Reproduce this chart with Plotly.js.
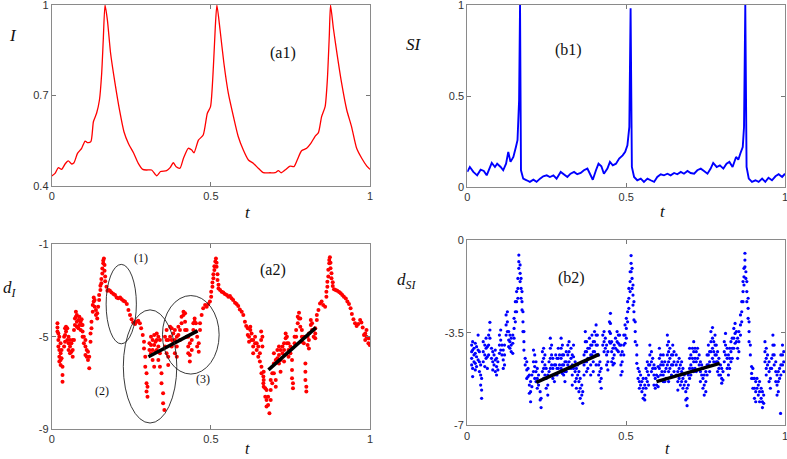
<!DOCTYPE html>
<html><head><meta charset="utf-8">
<script src="https://cdn.plot.ly/plotly-3.0.1.min.js"></script>
<style>html,body{margin:0;padding:0;background:#fff}#chart{width:787px;height:459px}</style>
</head><body><div id="chart"></div>
<script>
// ---------- (a1) I(t) ----------
const tI = [0,0.0105,0.021,0.031,0.042,0.052,0.063,0.070,0.081,0.094,0.105,0.112,0.123,0.131,0.141,0.150,0.157,0.162,0.1675,0.175,0.185,0.199,0.213,0.227,0.241,0.257,0.272,0.286,0.298,0.314,0.330,0.342,0.361,0.372,0.382,0.391,0.403,0.414,0.429,0.440,0.447,0.461,0.476,0.489,0.499,0.508,0.514,0.519,0.529,0.541,0.555,0.571,0.586,0.602,0.618,0.634,0.649,0.665,0.686,0.702,0.712,0.721,0.733,0.749,0.761,0.772,0.785,0.801,0.814,0.827,0.838,0.848,0.859,0.866,0.872,0.876,0.885,0.897,0.911,0.927,0.942,0.958,0.974,0.990,1.0];
const iVals = [0.433,0.442,0.461,0.455,0.473,0.483,0.473,0.477,0.508,0.525,0.549,0.544,0.547,0.613,0.641,0.685,0.773,0.884,1.0,0.950,0.840,0.740,0.652,0.580,0.541,0.510,0.475,0.455,0.453,0.453,0.434,0.448,0.451,0.461,0.477,0.464,0.459,0.492,0.525,0.519,0.510,0.552,0.569,0.641,0.663,0.796,0.928,1.0,0.917,0.807,0.707,0.630,0.564,0.519,0.486,0.475,0.459,0.444,0.444,0.444,0.451,0.444,0.453,0.466,0.464,0.488,0.517,0.525,0.541,0.564,0.577,0.630,0.663,0.752,0.895,1.0,0.922,0.834,0.740,0.652,0.597,0.525,0.492,0.466,0.455];

// ---------- (b1) SI(t) ----------
const tSI = [0,0.008,0.019,0.031,0.042,0.052,0.061,0.071,0.077,0.087,0.094,0.105,0.113,0.122,0.129,0.136,0.145,0.153,0.158,0.163,0.166,0.169,0.176,0.187,0.197,0.208,0.218,0.229,0.239,0.250,0.260,0.271,0.281,0.294,0.304,0.315,0.325,0.336,0.346,0.357,0.367,0.378,0.386,0.395,0.405,0.413,0.422,0.430,0.441,0.449,0.458,0.468,0.478,0.489,0.497,0.504,0.510,0.514,0.518,0.525,0.535,0.546,0.556,0.567,0.577,0.588,0.598,0.609,0.619,0.630,0.640,0.651,0.661,0.672,0.682,0.693,0.703,0.714,0.724,0.735,0.745,0.756,0.766,0.774,0.785,0.795,0.806,0.816,0.825,0.835,0.846,0.853,0.860,0.867,0.871,0.875,0.879,0.886,0.896,0.907,0.917,0.928,0.938,0.948,0.959,0.970,0.980,0.991,1.0];
const siVals = [0.083,0.110,0.083,0.064,0.095,0.088,0.064,0.101,0.132,0.110,0.128,0.110,0.092,0.128,0.193,0.138,0.165,0.220,0.257,0.477,1.0,0.092,0.046,0.037,0.028,0.040,0.028,0.046,0.059,0.064,0.055,0.064,0.046,0.083,0.070,0.055,0.073,0.083,0.070,0.077,0.092,0.101,0.073,0.040,0.092,0.128,0.114,0.073,0.101,0.138,0.119,0.128,0.156,0.174,0.193,0.229,0.330,0.982,0.110,0.055,0.037,0.046,0.028,0.046,0.037,0.028,0.055,0.070,0.064,0.073,0.064,0.077,0.070,0.083,0.073,0.088,0.077,0.073,0.092,0.101,0.088,0.073,0.101,0.132,0.110,0.119,0.101,0.128,0.138,0.110,0.165,0.150,0.187,0.220,0.330,1.0,0.110,0.046,0.028,0.037,0.028,0.046,0.028,0.051,0.037,0.059,0.070,0.055,0.073];

// ---------- (a2) d_I : each row = [t, d values observed at that t] ----------
const dIRows = [
[0.018,-4.42,-4.60,-4.78],[0.021,-4.86,-5.15,-5.43],[0.024,-5.00,-5.58,-5.87,-6.08],[0.028,-5.29,-5.72,-6.01,-6.23],
[0.031,-5.58,-5.94],[0.034,-6.30,-6.66,-6.95],[0.039,-5.00,-5.43],[0.042,-4.64,-4.93,-5.22],[0.045,-4.57,-4.78],
[0.049,-4.64,-5.15],[0.053,-5.00,-5.29,-5.58],[0.0575,-5.15,-5.43,-5.72],[0.062,-5.29,-5.65],[0.066,-5.15,-5.58,-5.87],
[0.070,-4.71,-5.15],[0.073,-4.21,-4.50],[0.076,-3.92,-4.14],[0.079,-4.06,-4.35,-4.57],[0.084,-4.28,-4.64],
[0.087,-4.14,-4.50],[0.091,-4.35,-4.71],[0.094,-4.25,-4.50],[0.097,-4.50,-4.78,-5.00],[0.101,-5.00,-5.29],
[0.106,-5.15,-5.43,-5.79],[0.110,-5.58,-5.87],[0.114,-5.65,-6.01],[0.118,-5.87,-6.37],[0.122,-4.86,-5.22],
[0.125,-4.35,-4.64],[0.129,-3.63,-3.92],[0.132,-3.30,-3.48],[0.135,-3.41,-3.70],[0.139,-3.85,-4.06],[0.143,-4.21,-3.99],
[0.146,-3.70],[0.149,-3.41,-3.2],[0.153,-2.98,-2.8],[0.156,-2.69,-2.5],[0.159,-2.26,-2.05],[0.162,-1.82,-1.7],[0.164,-1.61],
[0.166,-1.90,-2.15],[0.168,-2.40,-2.6],[0.172,-2.84],[0.175,-3.01],[0.179,-2.98],[0.183,-3.01],[0.188,-3.09],
[0.194,-3.15],[0.199,-3.20],[0.204,-3.30],[0.209,-3.34],[0.215,-3.30],[0.220,-3.38],[0.225,-3.44],[0.230,-3.48],
[0.236,-3.59],[0.241,-3.85],[0.246,-4.06],[0.251,-4.25],[0.256,-4.39],[0.262,-4.45],[0.267,-4.35],[0.272,-4.31],
[0.277,-4.42],[0.281,-4.64],[0.286,-4.93],[0.290,-5.22,-5.51],[0.294,-5.87,-6.30],[0.298,-6.59,-7.02,-7.38],
[0.301,-7.17,-7.60],[0.307,-5.29,-5.58],[0.312,-5.00,-5.36,-5.72],[0.317,-5.15,-5.58,-6.01],[0.322,-4.93,-5.36,-6.30],
[0.326,-5.22,-5.65],
[0.330,-4.86,-5.15,-5.58],[0.335,-5.00,-5.43,-6.01],[0.340,-5.15,-5.72,-6.30],[0.345,-6.59,-7.02],[0.350,-7.45,-7.89],
[0.354,-8.18],[0.356,-5.00,-5.43],[0.361,-4.71,-5.15,-5.72],[0.366,-5.15,-5.87,-6.23],[0.372,-4.57,-5.00],
[0.377,-4.64,-5.15,-5.43],[0.382,-4.86,-5.29],[0.387,-4.71,-5.15,-5.72],[0.393,-5.00,-5.43,-5.87],[0.398,-4.57,-4.93],
[0.403,-4.71,-5.15],[0.408,-4.14,-4.42],[0.414,-3.92,-4.06],[0.419,-3.99,-4.35,-4.71],[0.424,-4.71,-5.00],
[0.429,-5.00,-5.43,-5.72],[0.434,-5.29,-5.79,-6.08],[0.440,-5.15,-5.58],[0.445,-4.42,-4.71],[0.449,-4.21,-4.35],
[0.453,-4.42,-4.78],[0.457,-5.00,-5.43],[0.462,-5.29,-5.65],[0.466,-4.71,-4.42],[0.471,-4.06],[0.476,-3.77],
[0.482,-3.63],[0.487,-3.70],[0.492,-3.59],[0.497,-3.48],[0.501,-3.27,-3.05],[0.505,-2.84,-2.65],[0.508,-2.47,-2.3],
[0.511,-2.11,-1.95],[0.514,-1.75],[0.516,-1.61],[0.518,-1.97,-1.8],[0.521,-2.55,-2.3],[0.524,-2.91,-2.75],
[0.529,-2.98],[0.534,-3.05],[0.539,-3.09],[0.544,-3.15],[0.550,-3.20],[0.555,-3.27],[0.560,-3.24],[0.565,-3.34],
[0.570,-3.41],[0.576,-3.53],[0.581,-3.59],[0.586,-3.67],[0.591,-3.82],[0.597,-3.92],[0.602,-4.06],[0.607,-4.35],
[0.611,-4.54],[0.616,-4.64,-4.93],[0.620,-5.00,-5.22],[0.624,-4.71,-4.57],[0.628,-4.86,-5.15],[0.633,-5.15,-5.43,-5.72],
[0.639,-5.00,-5.29],[0.644,-5.29,-5.58],[0.649,-5.43,-5.87],[0.654,-5.72,-6.08],[0.659,-6.30,-6.59],[0.665,-6.73,-7.02],
[0.658,-4.78,-5.15],[0.662,-5.00,-5.43],[0.666,-6.52,-6.88,-7.17],[0.671,-7.24,-7.60],[0.675,-7.31,-7.74,-8.03],
[0.680,-7.60,-7.96],[0.684,-8.32],[0.688,-6.88,-7.31,-7.74],[0.693,-6.59,-7.02],[0.698,-5.72,-6.16,-6.59],
[0.704,-6.01,-6.88,-7.17],[0.709,-5.58,-5.94],[0.714,-5.43,-5.79,-6.16],[0.719,-5.58,-6.01,-6.52],[0.725,-5.43,-5.72],
[0.730,-5.29,-5.58,-6.08],[0.735,-4.86,-5.07],[0.739,-5.00,-5.29],[0.744,-5.29,-5.58,-5.87],[0.750,-5.43,-5.72],
[0.755,-6.01,-6.44,-6.80],[0.758,-7.02,-7.24],[0.763,-5.00,-5.29],[0.768,-4.71,-5.00],[0.773,-4.14,-4.42],
[0.777,-3.96,-4.21],[0.781,-4.21,-4.57],[0.786,-4.71,-5.00,-5.22],[0.792,-5.00,-5.29],[0.797,-6.16,-6.52,-6.88],
[0.800,-7.17,-7.38],[0.804,-5.00,-5.36],[0.808,-4.86,-5.15,-5.51],[0.814,-4.28,-4.50],[0.818,-4.42,-4.71],
[0.823,-4.71,-5.00],[0.828,-4.64,-4.86,-5.07],[0.833,-4.28,-4.06],[0.838,-3.85],[0.843,-3.56],[0.848,-3.48],
[0.853,-3.63],[0.859,-3.70],[0.863,-3.27,-3.05],[0.866,-2.84,-2.62],[0.869,-2.40,-2.1],[0.872,-1.82,-1.68],[0.874,-1.56],
[0.876,-2.04,-1.8],[0.879,-2.47,-2.25],[0.883,-2.81,-2.64],[0.887,-2.95],[0.892,-2.98],[0.897,-3.01],[0.903,-3.07],
[0.908,-3.12],[0.913,-3.20],[0.918,-3.27],[0.924,-3.35],[0.929,-3.48],[0.934,-3.59],[0.939,-3.77],[0.943,-4.02],
[0.948,-4.25],[0.953,-4.42],[0.958,-4.54],[0.963,-4.45],[0.969,-4.28],[0.973,-4.39],[0.977,-4.60],[0.981,-4.93],
[0.985,-4.86,-5.15],[0.989,-4.71,-5.00],[0.995,-5.07,-5.29],[0.999,-5.36]
];

// ---------- (b2) d_SI : each row = [t, d values observed at that t] ----------
const dSIRows = [
[0.0147,-3.97,-4.22,-4.47,-4.72],[0.0178,-3.84,-4.16,-4.85,-5.16],[0.022,-4.09,-4.34,-4.60],[0.026,-3.90,-4.28,-4.66,-4.91],
[0.030,-4.03,-4.41,-4.78],[0.035,-3.59,-4.16,-4.53],[0.039,-4.22,-4.60,-4.97],[0.043,-4.72,-5.10,-5.48],
[0.046,-5.23,-5.67,-5.98],[0.051,-3.84,-4.22,-4.60],[0.056,-3.97,-4.34,-4.78],[0.060,-3.71,-4.09,-4.47],
[0.064,-4.03,-4.41,-4.85],[0.068,-3.59,-3.97,-4.34],[0.072,-3.11,-3.40,-3.71],[0.077,-4.09,-4.47],
[0.081,-4.22,-4.60,-4.91],[0.085,-4.34,-4.72],[0.089,-4.16,-4.53,-4.97],[0.093,-4.47,-4.78,-5.10],[0.097,-4.60,-4.91],
[0.102,-3.59,-3.97,-4.28],[0.106,-3.40,-3.78,-4.16],[0.110,-3.97,-4.34],[0.114,-4.16,-4.53,-4.85],[0.118,-3.97,-4.34,-4.72],
[0.123,-2.83,-3.21,-3.59],[0.127,-2.71,-3.09,-3.46],[0.131,-3.46,-3.78,-4.03],[0.135,-3.59,-3.84,-4.09],
[0.139,-3.71,-3.97,-4.22],[0.144,-3.59,-3.90,-4.28],[0.148,-2.96,-3.34,-3.71],[0.152,-2.33,-2.71,-3.09],
[0.156,-1.95,-2.33,-2.71],[0.160,-1.45,-1.83,-2.20],[0.163,-0.57,-0.82,-1.07],[0.167,-0.94,-1.26,-1.57],
[0.170,-1.45,-1.83,-2.20],[0.173,-1.95,-2.33,-2.64],[0.176,-2.71,-3.09,-3.46],[0.179,-3.46,-3.84,-4.16],
[0.183,-4.47,-4.72],[0.188,-4.60,-4.91,-5.23],[0.192,-4.85,-5.16],[0.196,-5.10,-5.48,-5.79],[0.200,-5.35,-5.73,-6.11],
[0.204,-5.10,-5.54],[0.209,-4.16,-4.60,-4.97],[0.213,-4.34,-4.78,-5.23],[0.217,-4.60,-4.97,-5.35],
[0.221,-4.85,-5.23,-5.60],[0.225,-5.10,-5.48],[0.230,-5.73,-6.04],[0.233,-5.98,-6.33],[0.237,-4.22,-4.60,-4.97],
[0.241,-4.09,-4.47,-4.85,-5.23],[0.245,-4.34,-4.72,-5.10],[0.249,-4.85,-5.23,-5.60],[0.254,-5.10,-5.48,-5.86],
[0.258,-4.60,-4.97],[0.262,-3.71,-4.09,-4.47,-4.85],[0.266,-3.97,-4.34,-4.72],[0.270,-4.47,-4.85,-5.23],
[0.275,-4.72,-5.10,-5.35],[0.279,-4.34,-4.72],[0.283,-4.47,-4.85,-5.10],[0.287,-4.09,-4.47,-4.85],[0.291,-4.34,-4.72],
[0.296,-3.71,-4.09,-4.47,-4.85],[0.300,-3.97,-4.34,-4.72,-5.04],[0.304,-4.34,-4.72,-5.10],[0.308,-4.60,-4.97,-5.35],
[0.312,-4.22,-4.60,-4.97],[0.317,-3.97,-4.34,-4.72],[0.321,-3.84,-4.22,-4.60,-4.85],
[0.327,-4.09,-4.47,-4.85],[0.331,-4.34,-4.72,-5.10,-5.48],[0.335,-3.97,-4.41,-4.85],[0.340,-4.60,-4.97,-5.35],
[0.344,-4.85,-5.23,-5.60],[0.348,-4.72,-5.10],[0.352,-4.97,-5.35,-5.73],[0.356,-5.23,-5.60,-5.98],[0.361,-5.48,-5.86],
[0.364,-5.73,-6.17],[0.368,-4.34,-4.72,-5.10],[0.372,-3.46,-3.84,-4.22,-4.60],[0.376,-3.84,-4.22,-4.60,-4.97],
[0.380,-4.09,-4.47,-4.85],[0.385,-3.71,-4.09,-4.47],[0.389,-3.97,-4.34,-4.72,-5.10],[0.393,-3.59,-3.97,-4.34],
[0.397,-3.84,-4.22,-4.60,-4.97],[0.401,-3.46,-3.84,-4.22],[0.406,-3.21,-3.59,-3.97,-4.34,-4.72],[0.410,-3.59,-3.97,-4.34],
[0.414,-4.34,-4.72,-5.10],[0.418,-4.60,-4.97,-5.35],[0.422,-4.85,-5.23,-5.60],[0.427,-3.59,-3.97],
[0.431,-3.46,-3.84,-4.22],[0.435,-3.71,-4.09],[0.439,-3.97,-4.34,-4.72],[0.443,-4.22,-4.60,-4.91],
[0.448,-3.09,-3.46,-3.84],[0.451,-2.77,-3.15,-3.53,-3.90],[0.455,-3.84,-4.22,-4.60],[0.459,-4.09,-4.47,-4.72],
[0.463,-3.97,-4.34,-4.66],[0.467,-3.71,-4.09],[0.472,-3.46,-3.84,-4.16],[0.476,-3.59,-3.90,-4.22],[0.480,-3.59,-3.97],
[0.484,-3.97,-4.34,-4.72,-5.10],[0.488,-4.22,-4.60,-4.97],[0.493,-3.59,-3.97,-4.34],[0.497,-3.21,-3.59,-3.90],
[0.501,-2.96,-3.34,-3.71],[0.505,-2.33,-2.71,-3.09],[0.509,-1.83,-2.20,-2.58],[0.513,-1.20,-1.57,-1.95],
[0.516,-0.59,-0.88,-1.20],[0.519,-1.07,-1.45,-1.83],[0.522,-1.70,-2.08,-2.46],[0.525,-2.33,-2.71,-3.02],
[0.529,-3.09,-3.46,-3.84],[0.534,-3.97,-4.34,-4.66],[0.538,-4.85,-5.23],[0.542,-4.97,-5.35,-5.60],[0.546,-5.10,-5.48],
[0.550,-5.35,-5.73],[0.554,-5.23,-5.60,-5.98],[0.559,-5.48,-5.86,-6.04],[0.563,-4.85,-5.23,-5.60],
[0.567,-4.60,-4.97,-5.35],[0.571,-4.72,-5.10,-5.48],[0.575,-3.97,-4.34,-4.72],[0.580,-4.22,-4.60,-4.97],
[0.584,-4.47,-4.85],[0.588,-4.72,-5.10,-5.48],[0.592,-4.85,-5.23,-5.60],[0.596,-5.10,-5.48],[0.601,-4.78,-5.16,-5.54],
[0.605,-4.09,-4.47,-4.85],[0.609,-4.34,-4.72,-5.10],[0.613,-4.60,-4.97],[0.617,-4.34,-4.72,-5.10,-5.35],
[0.622,-4.60,-4.97,-5.35],[0.626,-4.85,-5.23],[0.630,-3.59,-3.97,-4.34,-4.72],[0.634,-3.84,-4.22,-4.60,-4.97,-5.35],
[0.638,-4.09,-4.47,-4.85],[0.643,-4.34,-4.72,-5.10],[0.647,-3.97,-4.34,-4.72],[0.651,-4.22,-4.60,-4.97],
[0.658,-4.34,-4.72,-5.10],[0.663,-4.60,-4.97,-5.35,-5.67],[0.667,-4.47,-4.85,-5.23],[0.671,-4.72,-5.10,-5.48],
[0.675,-4.60,-4.97,-5.35],[0.679,-4.85,-5.23,-5.60],[0.683,-5.10,-5.48],[0.688,-5.35,-5.73,-6.04],
[0.692,-5.60,-5.98,-6.26],[0.696,-5.10,-5.48],[0.700,-4.09,-4.47,-4.85,-5.23],[0.704,-4.34,-4.72,-5.10],
[0.709,-4.09,-4.47,-4.85],[0.713,-3.84,-4.22,-4.60,-4.97],[0.717,-4.09,-4.47,-4.85],[0.721,-4.22,-4.60,-4.97],
[0.725,-4.09,-4.47],[0.730,-4.34,-4.72],[0.734,-4.60,-4.97,-5.35],[0.738,-4.72,-5.10],[0.742,-4.85,-5.23,-5.60],
[0.746,-5.10,-5.48,-5.86],[0.751,-4.97,-5.35,-5.73],[0.755,-4.34,-4.72,-5.10],[0.759,-3.97,-4.34,-4.72],
[0.763,-4.22,-4.60,-4.97],[0.767,-3.46,-3.84,-4.22],[0.772,-3.31,-3.71,-4.09,-4.47],[0.776,-3.84,-4.22,-4.60],
[0.780,-3.59,-3.97,-4.34],[0.784,-3.97,-4.34,-4.60],[0.788,-4.22,-4.60,-4.97],[0.792,-4.47,-4.85,-5.10],
[0.797,-4.72,-5.10],[0.801,-4.85,-5.23,-5.41],[0.805,-4.97,-5.29],[0.809,-3.84,-4.22,-4.60],[0.813,-3.53,-3.97,-4.34],
[0.818,-4.09,-4.47,-4.85],[0.822,-4.34,-4.72,-5.10],[0.826,-4.09,-4.47,-4.85],[0.830,-3.84,-4.22,-4.60],
[0.834,-3.71,-4.09,-4.47],[0.839,-3.34,-3.71,-4.09],[0.843,-3.15,-3.53,-3.90],[0.847,-3.46,-3.84],
[0.851,-3.71,-4.09,-4.47],[0.855,-3.46,-3.84,-4.22],[0.860,-2.83,-3.21,-3.59],[0.864,-2.33,-2.71,-3.09],
[0.868,-1.57,-1.95,-2.33],[0.871,-1.07,-1.39,-1.70],[0.874,-0.50,-0.76,-1.01],[0.877,-1.20,-1.45],
[0.880,-1.57,-1.95,-2.33],[0.884,-2.20,-2.58,-2.96],[0.887,-3.09,-3.46,-3.84],[0.891,-3.97,-4.34],
[0.895,-4.78,-5.04,-5.23],[0.899,-4.85,-5.23,-5.60],[0.904,-5.23,-5.60,-5.98],[0.908,-5.35,-5.73,-6.11],
[0.912,-5.23,-5.60],[0.916,-5.48,-5.86],[0.920,-5.35,-5.73,-6.11],[0.925,-5.60,-5.98],[0.929,-5.73,-6.11,-6.33],
[0.933,-5.86,-6.17],[0.937,-3.84,-4.22,-4.60],[0.941,-4.09,-4.47,-4.85,-5.10],[0.945,-4.34,-4.72],
[0.950,-4.60,-4.97,-5.35],[0.954,-4.85,-5.23,-5.60],[0.958,-4.47,-4.85],[0.962,-3.59,-3.97,-4.34],
[0.966,-3.97,-4.34,-4.72],[0.971,-4.60,-4.97,-5.35],[0.975,-5.10,-5.48,-5.86],[0.979,-4.97,-5.35,-5.73],
[0.983,-4.85,-5.23],[0.986,-6.55],[0.987,-4.34,-4.72,-5.10],[0.992,-3.97,-4.34,-4.72],[0.996,-4.22,-4.60,-4.97]
];

// ---------- fitted segments ----------
const fitA2aT = [0.304, 0.458], fitA2aD = [-5.87, -4.75];
const fitA2bT = [0.681, 0.830], fitA2bD = [-6.44, -4.61];
const fitB2aT = [0.218, 0.4155], fitB2aD = [-5.38, -4.32];
const fitB2bT = [0.596, 0.795], fitB2bD = [-5.35, -4.66];

// ---------- ellipses in (a2) : [t0, t1, d0, d1] ----------
const ellipse1 = [0.171, 0.266, -5.31, -1.87];
const ellipse2 = [0.225, 0.393, -8.74, -3.84];
const ellipse3 = [0.348, 0.526, -6.62, -3.22];

// ---------- tick labels ----------
const tTicks = [0, 0.5, 1], tTickText = ['0', '0.5', '1'];
const iTicks = [0.4, 0.7, 1], iTickText = ['0.4', '0.7', '1'];
const siTicks = [0, 0.5, 1], siTickText = ['0', '0.5', '1'];
const dITicks = [-9, -5, -1], dITickText = ['-9', '-5', '-1'];
const dSITicks = [-7, -3.5, 0], dSITickText = ['-7', '-3.5', '0'];

function expand(rows){const x=[],y=[];rows.forEach(r=>{for(let k=1;k<r.length;k++){x.push(r[0]);y.push(r[k]);}});return {x,y};}
const dI = expand(dIRows), dSI = expand(dSIRows);

const RED = '#ff0000', BLUE = '#0000ff';
const traces = [
  {x:tI, y:iVals, mode:'lines', line:{color:RED, width:1.3, shape:'spline', smoothing:0.6}, xaxis:'x', yaxis:'y', hoverinfo:'skip'},
  {x:tSI, y:siVals, mode:'lines', line:{color:BLUE, width:1.9}, xaxis:'x2', yaxis:'y2', hoverinfo:'skip'},
  {x:dI.x, y:dI.y, mode:'markers', marker:{color:RED, size:4}, xaxis:'x3', yaxis:'y3', hoverinfo:'skip'},
  {x:fitA2aT, y:fitA2aD, mode:'lines', line:{color:'#000', width:3.5}, xaxis:'x3', yaxis:'y3'},
  {x:fitA2bT, y:fitA2bD, mode:'lines', line:{color:'#000', width:3.5}, xaxis:'x3', yaxis:'y3'},
  {x:dSI.x, y:dSI.y, mode:'markers', marker:{color:BLUE, size:3.2}, xaxis:'x4', yaxis:'y4', hoverinfo:'skip'},
  {x:fitB2aT, y:fitB2aD, mode:'lines', line:{color:'#000', width:3.5}, xaxis:'x4', yaxis:'y4'},
  {x:fitB2bT, y:fitB2bD, mode:'lines', line:{color:'#000', width:3.5}, xaxis:'x4', yaxis:'y4'}
];

const W = 787, H = 459;
const px = v => v / W, py = v => 1 - v / H;
function ax(domain, range, vals, text, anchor){
  return {domain, range, anchor, tickmode:'array', tickvals:vals, ticktext:text,
    ticks:'inside', ticklen:4, tickcolor:'#777', showline:true, linecolor:'#8a8a8a', linewidth:1,
    mirror:'ticks', showgrid:false, zeroline:false, fixedrange:true, ticklabeloverflow:'allow',
    tickfont:{family:'Liberation Sans, Arial, sans-serif', size:11, color:'#333'}};
}
const serif = 'Liberation Serif, Times New Roman, serif';
function lab(x, y, text, size, xref, yref){
  return {x, y, xref:xref||'paper', yref:yref||'paper', text, showarrow:false,
    font:{family:serif, size:size||16, color:'#111'}, xanchor:'center', yanchor:'middle'};
}

const layout = {
  width:W, height:H, margin:{l:0, r:0, t:0, b:0}, showlegend:false,
  paper_bgcolor:'#fff', plot_bgcolor:'#fff',
  xaxis:  ax([px(51.7), px(370)], [0,1], tTicks, tTickText, 'y'),
  yaxis:  ax([py(186), py(5)], [0.4,1], iTicks, iTickText, 'x'),
  xaxis2: ax([px(467.3), px(785)], [0,1], tTicks, tTickText, 'y2'),
  yaxis2: ax([py(187), py(5)], [0,1], siTicks, siTickText, 'x2'),
  xaxis3: ax([px(51.7), px(370)], [0,1], tTicks, tTickText, 'y3'),
  yaxis3: ax([py(429), py(244.3)], [-9,-1], dITicks, dITickText, 'x3'),
  xaxis4: ax([px(467), px(785)], [0,1], tTicks, tTickText, 'y4'),
  yaxis4: ax([py(425.3), py(240)], [-7,0], dSITicks, dSITickText, 'x4'),
  shapes: [ellipse1, ellipse2, ellipse3].map(e => ({type:'circle', xref:'x3', yref:'y3',
    x0:e[0], x1:e[1], y0:e[2], y1:e[3], line:{color:'#222', width:0.9}})),
  annotations: [
    lab(px(248), py(212), '<i>t</i>', 17),
    lab(px(663), py(211), '<i>t</i>', 17),
    lab(px(247), py(448), '<i>t</i>', 16),
    lab(px(667), py(448), '<i>t</i>', 16),
    lab(px(13), py(36), '<i>I</i>', 17),
    lab(px(414), py(45), '<i>SI</i>', 17),
    lab(px(10), py(289), '<i>d</i><sub><i>I</i></sub>', 17),
    lab(px(406), py(281), '<i>d</i><sub><i>SI</i></sub>', 17),
    lab(0.726, 0.840, '(a1)', 16, 'x', 'y'),
    lab(0.318, 0.752, '(b1)', 16, 'x2', 'y2'),
    lab(0.696, -2.11, '(a2)', 16, 'x3', 'y3'),
    lab(0.328, -1.45, '(b2)', 16, 'x4', 'y4'),
    lab(0.281, -1.61, '(1)', 12, 'x3', 'y3'),
    lab(0.157, -7.34, '(2)', 12, 'x3', 'y3'),
    lab(0.476, -6.85, '(3)', 12, 'x3', 'y3')
  ]
};

Plotly.newPlot('chart', traces, layout, {staticPlot:true, displayModeBar:false});
</script>
</body></html>
